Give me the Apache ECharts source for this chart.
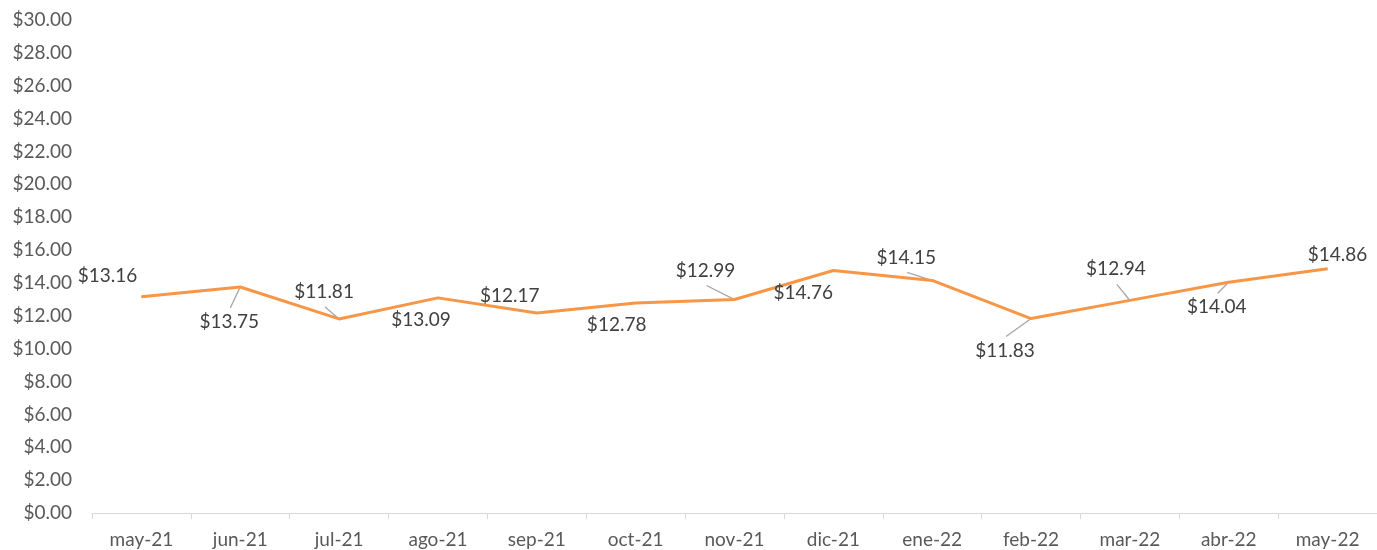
<!DOCTYPE html>
<html>
<head>
<meta charset="utf-8">
<style>
  html, body { margin: 0; padding: 0; background: #fff; }
  #main { width: 1377px; height: 550px; }
</style>
<script src="https://cdn.jsdelivr.net/npm/echarts@6/dist/echarts.min.js"></script>
</head>
<body>
<div id="main"></div>
<script>
// meses
let months = ['may-21', 'jun-21', 'jul-21', 'ago-21', 'sep-21', 'oct-21', 'nov-21',
  'dic-21', 'ene-22', 'feb-22', 'mar-22', 'abr-22', 'may-22'];
let prices = [13.16, 13.75, 11.81, 13.09, 12.17, 12.78, 12.99, 14.76, 14.15, 11.83, 12.94, 14.04, 14.86];

// where each label sits relative to its point, and whether it gets a leader line
let labelShift = [[-34, -21], [-11, 35], [-15, -27], [-17, 22], [-27, -17], [-19, 22], [-29, -29],
  [-30, 22], [-26, -23], [-26, 32], [-14, -31], [-12, 25], [10, -14]];
let leader = [false, true, true, false, false, false, true, false, true, true, true, true, false];

let fontFam = 'Lato, "Open Sans", sans-serif';
let chart = echarts.init(document.getElementById('main'));

// leader lines: from the label edge to the point, like excel does
function renderLeader(params, api) {
  let i = params.dataIndex;
  if (!leader[i]) return null;
  let pt = api.coord([api.value(0), api.value(1)]);
  let s = labelShift[i];
  let lx = pt[0] + s[0], ly = pt[1] + s[1];
  let sy = ly + (s[1] < 0 ? 15 : -14);
  let dx = pt[0] - lx, dy = pt[1] - sy;
  let len = Math.sqrt(dx * dx + dy * dy);
  return {
    type: 'line',
    shape: { x1: lx + 1, y1: sy, x2: pt[0] - dx / len * 1.5, y2: pt[1] - dy / len * 1.5 },
    style: { stroke: '#a6a6a6', lineWidth: 1.3 }
  };
}

let option = {
  animation: false,
  grid: { left: 92, right: 0, top: 20, bottom: 37 },
  xAxis: {
    type: 'category',
    data: months,
    boundaryGap: true,
    axisLine: { lineStyle: { color: '#d9d9d9', width: 1 } },
    axisTick: { show: true, length: 6, lineStyle: { color: '#d9d9d9' } },
    axisLabel: { color: '#595959', fontSize: 19, fontFamily: fontFam, margin: 17 }
  },
  yAxis: {
    type: 'value',
    min: 0,
    max: 30,
    interval: 2,
    axisLine: { show: false },
    axisTick: { show: false },
    splitLine: { show: false },
    axisLabel: {
      color: '#595959', fontSize: 19, fontFamily: fontFam, margin: 20,
      formatter: function (v) { return '$' + v.toFixed(2); }
    }
  },
  series: [{
    type: 'custom',
    renderItem: renderLeader,
    data: prices.map(function (v, i) { return [i, v]; }),
    silent: true,
    z: 1
  }, {
    type: 'line',
    data: prices,
    z: 2,
    symbol: 'circle',
    symbolSize: 1,
    showSymbol: true,
    lineStyle: { color: '#F79646', width: 3 },
    itemStyle: { color: '#F79646' },
    label: {
      show: true,
      position: 'inside',
      color: '#404040',
      fontSize: 19,
      fontFamily: fontFam,
      formatter: function (p) { return '$' + p.value.toFixed(2); }
    },
    labelLayout: function (p) {
      let s = labelShift[p.dataIndex];
      return { dx: s[0], dy: s[1] };
    }
  }]
};
chart.setOption(option);
</script>
</body>
</html>
